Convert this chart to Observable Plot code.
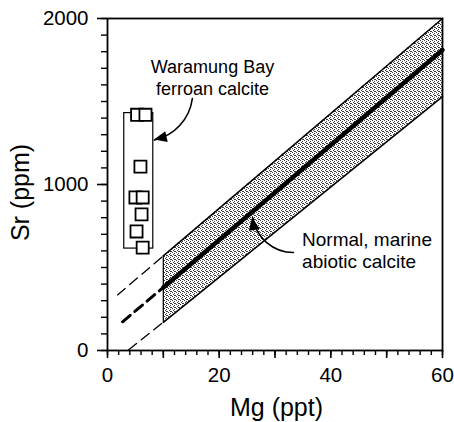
<!DOCTYPE html>
<html><head><meta charset="utf-8">
<script src="https://cdn.jsdelivr.net/npm/d3@7"></script>
<script src="https://cdn.jsdelivr.net/npm/@observablehq/plot@0.6"></script>
<style>html,body{margin:0;padding:0;background:#fff} #chart svg{display:block}</style>
</head><body><div id="chart"></div>
<script>
// Calcite trend band (Mg in ppt, Sr in ppm)
const bandMg = [10, 60];
const srLower = [170, 1530];
const srMid = [380, 1810];
const srUpper = [570, 2000];
// dashed extrapolations towards low Mg: start point to band edge at Mg = 10
const extStartMg = [1.8, 2.7, 3.8];
const extStartSr = [335, 173, 5];
const extName = ["upper", "mid", "lower"];
// Waramung Bay ferroan calcite samples
const sampleMg = [5.3, 6.8, 5.9, 5.0, 6.3, 6.1, 5.2, 6.3];
const sampleSr = [1420, 1420, 1108, 922, 922, 820, 717, 620];
const boxMg = [3.0, 8.2];
const boxSr = [614, 1430];
// annotations
const noteText = ["Waramung Bay\nferroan calcite", "Normal, marine\nabiotic calcite"];
const noteMg = [18.8, 34.85];
const noteSr = [1650, 608];
const arrowFromMg = [15.2, 33.3];
const arrowFromSr = [1518, 590];
const arrowToMg = [8.4, 26.0];
const arrowToSr = [1268, 800];
const arrowBend = [35, 40];
// axes
const xLabel = "Mg (ppt)";
const yLabel = "Sr (ppm)";
const xMajor = [0, 20, 40, 60];
const xMid = [10, 30, 50];
const xMinor = d3.range(0, 61, 2);
const yMajor = [0, 1000, 2000];
const yMinor = d3.range(0, 2001, 100);

const band = bandMg.map((m, i) => ({mg: m, lo: srLower[i], mid: srMid[i], hi: srUpper[i]}));
const ends = [srUpper[0], srMid[0], srLower[0]];
const ext = extName.flatMap((n, i) => [
  {key: n, mg: extStartMg[i], sr: extStartSr[i]},
  {key: n, mg: bandMg[0], sr: ends[i]}
]);
const samples = sampleMg.map((m, i) => ({mg: m, sr: sampleSr[i]}));
const arrows = arrowFromMg.map((m, i) => ({x1: m, y1: arrowFromSr[i], x2: arrowToMg[i], y2: arrowToSr[i], bend: arrowBend[i]}));

const font = "'Liberation Sans', Arial, Helvetica, sans-serif";

function stippleDefs() {
  const svg = d3.create("svg:defs");
  const p = svg.append("pattern").attr("id", "stipple").attr("patternUnits", "userSpaceOnUse")
    .attr("width", 4).attr("height", 4);
  p.append("rect").attr("width", 4).attr("height", 4).attr("fill", "#ffffff");
  [[0, 0], [2, 1], [1, 2], [3, 3], [2, 3]].forEach(([x, y]) =>
    p.append("rect").attr("x", x).attr("y", y).attr("width", 1).attr("height", 1).attr("fill", "#3a3a3a"));
  return svg.node();
}

function arrowHeads(index, scales) {
  const g = d3.create("svg:g").attr("fill", "black");
  for (const a of arrows) {
    const x1 = scales.x(a.x1), y1 = scales.y(a.y1), x2 = scales.x(a.x2), y2 = scales.y(a.y2);
    const e = Math.atan2(y2 - y1, x2 - x1) + a.bend * Math.PI / 180;
    const L = 14, w = 23 * Math.PI / 180;
    const p = [[x2, y2],
      [x2 - L * Math.cos(e + w), y2 - L * Math.sin(e + w)],
      [x2 - L * Math.cos(e - w), y2 - L * Math.sin(e - w)]];
    g.append("path").attr("d", "M" + p.map(q => q.join(",")).join("L") + "Z");
  }
  return g.node();
}

const chart = Plot.plot({
  width: 454,
  height: 422,
  marginLeft: 107,
  marginRight: 12,
  marginTop: 18,
  marginBottom: 72,
  style: {fontFamily: font, background: "#fff", color: "#000"},
  x: {domain: [0, 60]},
  y: {domain: [0, 2000]},
  marks: [
    stippleDefs,
    Plot.areaY(band, {x: "mg", y1: "lo", y2: "hi", fill: "url(#stipple)"}),
    Plot.line(band, {x: "mg", y: "hi", stroke: "black", strokeWidth: 1.6}),
    Plot.line(band, {x: "mg", y: "lo", stroke: "black", strokeWidth: 1.6}),
    Plot.line(band, {x: "mg", y: "mid", stroke: "black", strokeWidth: 4.5}),
    Plot.ruleX([bandMg[0]], {y1: srLower[0], y2: srUpper[0], stroke: "black", strokeWidth: 1.2}),
    Plot.line(ext.filter(d => d.key !== "mid"), {x: "mg", y: "sr", z: "key", stroke: "black", strokeWidth: 1.3, strokeDasharray: "10,6"}),
    Plot.line(ext.filter(d => d.key === "mid"), {x: "mg", y: "sr", stroke: "black", strokeWidth: 3, strokeDasharray: "10,6"}),
    Plot.rect([0], {x1: boxMg[0], x2: boxMg[1], y1: boxSr[0], y2: boxSr[1], fill: "none", stroke: "black", strokeWidth: 1.2}),
    Plot.dot(samples, {x: "mg", y: "sr", symbol: "square", r: 6.8, fill: "white", stroke: "black", strokeWidth: 1.8}),
    Plot.arrow(arrows.slice(0, 1), {x1: "x1", y1: "y1", x2: "x2", y2: "y2", bend: arrowBend[0], headLength: 0, stroke: "black", strokeWidth: 1.6}),
    Plot.arrow(arrows.slice(1, 2), {x1: "x1", y1: "y1", x2: "x2", y2: "y2", bend: arrowBend[1], headLength: 0, stroke: "black", strokeWidth: 1.6}),
    arrowHeads,
    Plot.text([noteText[0]], {x: noteMg[0], y: noteSr[0], textAnchor: "middle", fontSize: 18, lineHeight: 1.22, lineAnchor: "middle", fill: "black"}),
    Plot.text([noteText[1]], {x: noteMg[1], y: noteSr[1], textAnchor: "start", fontSize: 19, lineHeight: 1.16, lineAnchor: "middle", fill: "black"}),
    Plot.axisY(yMinor, {tickSize: 6, tickFormat: () => "", strokeWidth: 1.4, label: null}),
    Plot.axisY(yMajor, {tickSize: 10, tickPadding: 9, strokeWidth: 1.6, fontSize: 20.5, fill: "black", tickFormat: d3.format("d"), label: null}),
    Plot.axisX(xMinor, {tickSize: 5, tickFormat: () => "", strokeWidth: 1.4, label: null}),
    Plot.axisX(xMid, {tickSize: 8, tickFormat: () => "", strokeWidth: 1.6, label: null}),
    Plot.axisX(xMajor, {tickSize: 8, tickPadding: 9, strokeWidth: 1.6, fontSize: 20.5, fill: "black", tickFormat: d3.format("d"), label: null}),
    Plot.text([yLabel], {frameAnchor: "left", rotate: -90, dx: -79, dy: 8, textAnchor: "middle", lineAnchor: "bottom", fontSize: 25, fill: "black"}),
    Plot.text([xLabel], {frameAnchor: "bottom", dx: 1.5, dy: 65, textAnchor: "middle", lineAnchor: "bottom", fontSize: 25, fill: "black"}),
    Plot.frame({stroke: "black", strokeWidth: 1.8})
  ]
});
document.getElementById("chart").appendChild(chart);
</script>
</body></html>
